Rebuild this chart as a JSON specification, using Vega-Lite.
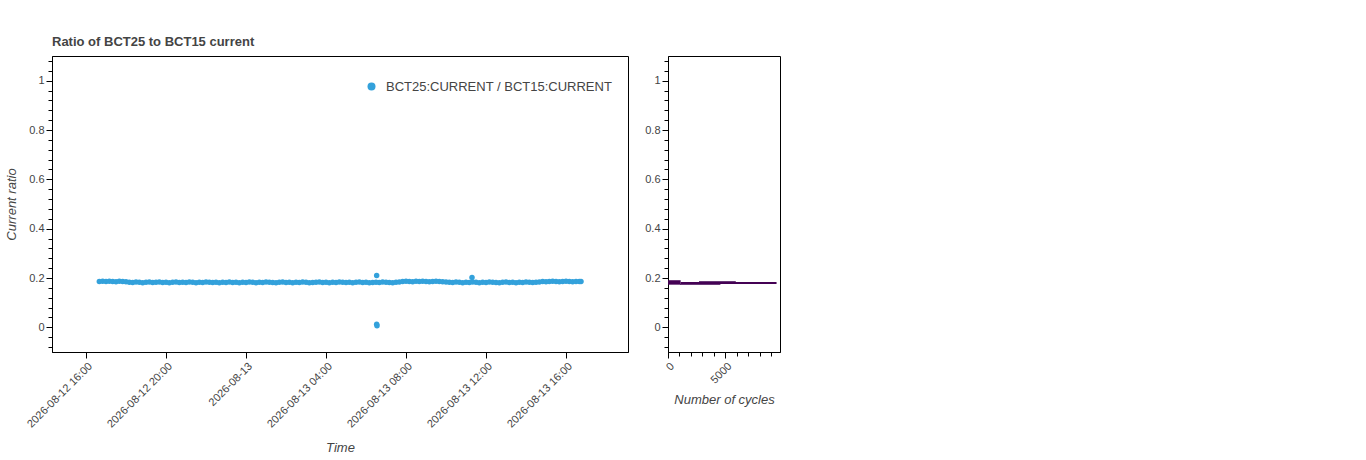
{
  "$schema": "https://vega.github.io/schema/vega-lite/v6.json",
  "background": "white",
  "padding": {"left": 5, "top": 35, "right": 5, "bottom": 5},
  "spacing": 15,
  "resolve": {"scale": {"color": "independent"}},
  "config": {
    "font": "Liberation Sans",
    "view": {"stroke": "#000", "strokeWidth": 1},
    "axis": {
      "grid": false,
      "domainColor": "#000",
      "tickColor": "#000",
      "labelColor": "#444",
      "labelFontSize": 11,
      "labelPadding": 2,
      "tickSize": 6,
      "titleColor": "#444",
      "titleFontSize": 13,
      "titleFontStyle": "italic",
      "titleFontWeight": "normal"
    }
  },
  "hconcat": [
    {
      "width": 576,
      "height": 296,
      "title": {"text": "Ratio of BCT25 to BCT15 current", "anchor": "start", "frame": "group", "fontSize": 13, "fontWeight": "bold", "color": "#444", "offset": 6},
      "data": {
        "values": [
          {"time": "2026-08-12T16:40", "ratio": 0.186}, {"time": "2026-08-12T16:50", "ratio": 0.187}, {"time": "2026-08-12T17:00", "ratio": 0.186}, {"time": "2026-08-12T17:10", "ratio": 0.187},
          {"time": "2026-08-12T17:20", "ratio": 0.186}, {"time": "2026-08-12T17:30", "ratio": 0.185}, {"time": "2026-08-12T17:40", "ratio": 0.187}, {"time": "2026-08-12T17:50", "ratio": 0.186},
          {"time": "2026-08-12T18:00", "ratio": 0.185}, {"time": "2026-08-12T18:10", "ratio": 0.183}, {"time": "2026-08-12T18:20", "ratio": 0.182}, {"time": "2026-08-12T18:30", "ratio": 0.184},
          {"time": "2026-08-12T18:40", "ratio": 0.183}, {"time": "2026-08-12T18:50", "ratio": 0.181}, {"time": "2026-08-12T19:00", "ratio": 0.183}, {"time": "2026-08-12T19:10", "ratio": 0.184},
          {"time": "2026-08-12T19:20", "ratio": 0.182}, {"time": "2026-08-12T19:30", "ratio": 0.183}, {"time": "2026-08-12T19:40", "ratio": 0.184}, {"time": "2026-08-12T19:50", "ratio": 0.182},
          {"time": "2026-08-12T20:00", "ratio": 0.183}, {"time": "2026-08-12T20:10", "ratio": 0.181}, {"time": "2026-08-12T20:20", "ratio": 0.183}, {"time": "2026-08-12T20:30", "ratio": 0.184},
          {"time": "2026-08-12T20:40", "ratio": 0.182}, {"time": "2026-08-12T20:50", "ratio": 0.183}, {"time": "2026-08-12T21:00", "ratio": 0.182}, {"time": "2026-08-12T21:10", "ratio": 0.184},
          {"time": "2026-08-12T21:20", "ratio": 0.183}, {"time": "2026-08-12T21:30", "ratio": 0.181}, {"time": "2026-08-12T21:40", "ratio": 0.183}, {"time": "2026-08-12T21:50", "ratio": 0.182},
          {"time": "2026-08-12T22:00", "ratio": 0.184}, {"time": "2026-08-12T22:10", "ratio": 0.183}, {"time": "2026-08-12T22:20", "ratio": 0.182}, {"time": "2026-08-12T22:30", "ratio": 0.183},
          {"time": "2026-08-12T22:40", "ratio": 0.181}, {"time": "2026-08-12T22:50", "ratio": 0.183}, {"time": "2026-08-12T23:00", "ratio": 0.182}, {"time": "2026-08-12T23:10", "ratio": 0.184},
          {"time": "2026-08-12T23:20", "ratio": 0.182}, {"time": "2026-08-12T23:30", "ratio": 0.183}, {"time": "2026-08-12T23:40", "ratio": 0.181}, {"time": "2026-08-12T23:50", "ratio": 0.183},
          {"time": "2026-08-13T00:00", "ratio": 0.182}, {"time": "2026-08-13T00:10", "ratio": 0.184}, {"time": "2026-08-13T00:20", "ratio": 0.183}, {"time": "2026-08-13T00:30", "ratio": 0.181},
          {"time": "2026-08-13T00:40", "ratio": 0.183}, {"time": "2026-08-13T00:50", "ratio": 0.182}, {"time": "2026-08-13T01:00", "ratio": 0.184}, {"time": "2026-08-13T01:10", "ratio": 0.183},
          {"time": "2026-08-13T01:20", "ratio": 0.182}, {"time": "2026-08-13T01:30", "ratio": 0.181}, {"time": "2026-08-13T01:40", "ratio": 0.183}, {"time": "2026-08-13T01:50", "ratio": 0.184},
          {"time": "2026-08-13T02:00", "ratio": 0.182}, {"time": "2026-08-13T02:10", "ratio": 0.183}, {"time": "2026-08-13T02:20", "ratio": 0.181}, {"time": "2026-08-13T02:30", "ratio": 0.183},
          {"time": "2026-08-13T02:40", "ratio": 0.182}, {"time": "2026-08-13T02:50", "ratio": 0.184}, {"time": "2026-08-13T03:00", "ratio": 0.183}, {"time": "2026-08-13T03:10", "ratio": 0.181},
          {"time": "2026-08-13T03:20", "ratio": 0.182}, {"time": "2026-08-13T03:30", "ratio": 0.183}, {"time": "2026-08-13T03:40", "ratio": 0.184}, {"time": "2026-08-13T03:50", "ratio": 0.182},
          {"time": "2026-08-13T04:00", "ratio": 0.183}, {"time": "2026-08-13T04:10", "ratio": 0.181}, {"time": "2026-08-13T04:20", "ratio": 0.183}, {"time": "2026-08-13T04:30", "ratio": 0.182},
          {"time": "2026-08-13T04:40", "ratio": 0.184}, {"time": "2026-08-13T04:50", "ratio": 0.183}, {"time": "2026-08-13T05:00", "ratio": 0.182}, {"time": "2026-08-13T05:10", "ratio": 0.183},
          {"time": "2026-08-13T05:20", "ratio": 0.181}, {"time": "2026-08-13T05:30", "ratio": 0.183}, {"time": "2026-08-13T05:40", "ratio": 0.184}, {"time": "2026-08-13T05:50", "ratio": 0.182},
          {"time": "2026-08-13T06:00", "ratio": 0.183}, {"time": "2026-08-13T06:10", "ratio": 0.181}, {"time": "2026-08-13T06:20", "ratio": 0.182}, {"time": "2026-08-13T06:30", "ratio": 0.183},
          {"time": "2026-08-13T06:32", "ratio": 0.21}, {"time": "2026-08-13T06:32", "ratio": 0.013}, {"time": "2026-08-13T06:33", "ratio": 0.006},
          {"time": "2026-08-13T06:40", "ratio": 0.182}, {"time": "2026-08-13T06:50", "ratio": 0.184}, {"time": "2026-08-13T07:00", "ratio": 0.183}, {"time": "2026-08-13T07:10", "ratio": 0.182},
          {"time": "2026-08-13T07:20", "ratio": 0.181}, {"time": "2026-08-13T07:30", "ratio": 0.183}, {"time": "2026-08-13T07:40", "ratio": 0.184}, {"time": "2026-08-13T07:50", "ratio": 0.186},
          {"time": "2026-08-13T08:00", "ratio": 0.187}, {"time": "2026-08-13T08:10", "ratio": 0.186}, {"time": "2026-08-13T08:20", "ratio": 0.185}, {"time": "2026-08-13T08:30", "ratio": 0.187},
          {"time": "2026-08-13T08:40", "ratio": 0.186}, {"time": "2026-08-13T08:50", "ratio": 0.187}, {"time": "2026-08-13T09:00", "ratio": 0.186}, {"time": "2026-08-13T09:10", "ratio": 0.185},
          {"time": "2026-08-13T09:20", "ratio": 0.186}, {"time": "2026-08-13T09:30", "ratio": 0.187}, {"time": "2026-08-13T09:40", "ratio": 0.186}, {"time": "2026-08-13T09:50", "ratio": 0.185},
          {"time": "2026-08-13T10:00", "ratio": 0.184}, {"time": "2026-08-13T10:10", "ratio": 0.183}, {"time": "2026-08-13T10:20", "ratio": 0.182}, {"time": "2026-08-13T10:30", "ratio": 0.184},
          {"time": "2026-08-13T10:40", "ratio": 0.183}, {"time": "2026-08-13T10:50", "ratio": 0.181}, {"time": "2026-08-13T11:00", "ratio": 0.183}, {"time": "2026-08-13T11:10", "ratio": 0.182},
          {"time": "2026-08-13T11:18", "ratio": 0.202},
          {"time": "2026-08-13T11:20", "ratio": 0.184}, {"time": "2026-08-13T11:30", "ratio": 0.183}, {"time": "2026-08-13T11:40", "ratio": 0.181}, {"time": "2026-08-13T11:50", "ratio": 0.183},
          {"time": "2026-08-13T12:00", "ratio": 0.182}, {"time": "2026-08-13T12:10", "ratio": 0.184}, {"time": "2026-08-13T12:20", "ratio": 0.183}, {"time": "2026-08-13T12:30", "ratio": 0.182},
          {"time": "2026-08-13T12:40", "ratio": 0.181}, {"time": "2026-08-13T12:50", "ratio": 0.183}, {"time": "2026-08-13T13:00", "ratio": 0.184}, {"time": "2026-08-13T13:10", "ratio": 0.182},
          {"time": "2026-08-13T13:20", "ratio": 0.183}, {"time": "2026-08-13T13:30", "ratio": 0.181}, {"time": "2026-08-13T13:40", "ratio": 0.183}, {"time": "2026-08-13T13:50", "ratio": 0.182},
          {"time": "2026-08-13T14:00", "ratio": 0.184}, {"time": "2026-08-13T14:10", "ratio": 0.183}, {"time": "2026-08-13T14:20", "ratio": 0.182}, {"time": "2026-08-13T14:30", "ratio": 0.183},
          {"time": "2026-08-13T14:40", "ratio": 0.184}, {"time": "2026-08-13T14:50", "ratio": 0.186}, {"time": "2026-08-13T15:00", "ratio": 0.185}, {"time": "2026-08-13T15:10", "ratio": 0.186},
          {"time": "2026-08-13T15:20", "ratio": 0.187}, {"time": "2026-08-13T15:30", "ratio": 0.186}, {"time": "2026-08-13T15:40", "ratio": 0.185}, {"time": "2026-08-13T15:50", "ratio": 0.186},
          {"time": "2026-08-13T16:00", "ratio": 0.187}, {"time": "2026-08-13T16:10", "ratio": 0.186}, {"time": "2026-08-13T16:20", "ratio": 0.185}, {"time": "2026-08-13T16:30", "ratio": 0.186},
          {"time": "2026-08-13T16:40", "ratio": 0.186}, {"time": "2026-08-13T16:45", "ratio": 0.186}
        ]
      },
      "mark": {"type": "circle", "size": 30, "opacity": 1},
      "encoding": {
        "x": {
          "field": "time",
          "type": "temporal",
          "scale": {"domain": [{"year": 2026, "month": 8, "date": 12, "hours": 14, "minutes": 18}, {"year": 2026, "month": 8, "date": 13, "hours": 19, "minutes": 6}]},
          "axis": {
            "title": "Time",
            "values": [
              {"year": 2026, "month": 8, "date": 12, "hours": 16}, {"year": 2026, "month": 8, "date": 12, "hours": 20},
              {"year": 2026, "month": 8, "date": 13, "hours": 0}, {"year": 2026, "month": 8, "date": 13, "hours": 4},
              {"year": 2026, "month": 8, "date": 13, "hours": 8}, {"year": 2026, "month": 8, "date": 13, "hours": 12},
              {"year": 2026, "month": 8, "date": 13, "hours": 16}
            ],
            "labelExpr": "hours(datum.value) == 0 ? timeFormat(datum.value, '%Y-%m-%d') : timeFormat(datum.value, '%Y-%m-%d %H:%M')",
            "labelAngle": -45,
            "labelOverlap": false,
            "titlePadding": 12
          }
        },
        "y": {
          "field": "ratio",
          "type": "quantitative",
          "scale": {"domain": [-0.1, 1.1], "nice": false, "zero": false},
          "axis": {
            "title": "Current ratio",
            "values": [-0.08, -0.04, 0, 0.04, 0.08, 0.12, 0.16, 0.2, 0.24, 0.28, 0.32, 0.36, 0.4, 0.44, 0.48, 0.52, 0.56, 0.6, 0.64, 0.68, 0.72, 0.76, 0.8, 0.84, 0.88, 0.92, 0.96, 1, 1.04, 1.08],
            "labelExpr": "indexof([0, 0.2, 0.4, 0.6, 0.8, 1], datum.value) >= 0 ? format(datum.value, '~g') : ''",
            "tickSize": {"condition": {"test": "indexof([0, 0.2, 0.4, 0.6, 0.8, 1], datum.value) >= 0", "value": 6}, "value": 4},
            "labelOverlap": false,
            "titlePadding": 10
          }
        },
        "color": {
          "datum": "BCT25:CURRENT / BCT15:CURRENT",
          "scale": {"range": ["#33a1db"]},
          "legend": {
            "title": null,
            "orient": "none",
            "legendX": 313,
            "legendY": 24,
            "symbolType": "circle",
            "symbolSize": 64,
            "labelFontSize": 13,
            "labelColor": "#444",
            "labelLimit": 0,
            "labelOffset": 8
          }
        }
      }
    },
    {
      "width": 112,
      "height": 296,
      "data": {
        "values": [
          {"c0": 1050, "c1": 4560, "lo": 0.172, "hi": 0.177, "density": "low"},
          {"c0": 2700, "c1": 5900, "lo": 0.183, "hi": 0.188, "density": "low"},
          {"c0": 0, "c1": 1100, "lo": 0.173, "hi": 0.191, "density": "high"},
          {"c0": 1100, "c1": 9450, "lo": 0.176, "hi": 0.184, "density": "high"}
        ]
      },
      "mark": {"type": "rect"},
      "encoding": {
        "x": {
          "field": "c0",
          "type": "quantitative",
          "scale": {"domain": [0, 9750], "nice": false, "zero": false},
          "axis": {
            "title": "Number of cycles",
            "values": [0, 1000, 2000, 3000, 4000, 5000, 6000, 7000, 8000, 9000],
            "labelExpr": "datum.value == 0 || datum.value == 5000 ? format(datum.value, 'd') : ''",
            "tickSize": {"condition": {"test": "datum.value == 0 || datum.value == 5000", "value": 6}, "value": 4},
            "labelAngle": -45,
            "labelOverlap": false,
            "titlePadding": 8
          }
        },
        "x2": {"field": "c1"},
        "y": {
          "field": "lo",
          "type": "quantitative",
          "scale": {"domain": [-0.1, 1.1], "nice": false, "zero": false},
          "axis": {
            "title": null,
            "values": [-0.08, -0.04, 0, 0.04, 0.08, 0.12, 0.16, 0.2, 0.24, 0.28, 0.32, 0.36, 0.4, 0.44, 0.48, 0.52, 0.56, 0.6, 0.64, 0.68, 0.72, 0.76, 0.8, 0.84, 0.88, 0.92, 0.96, 1, 1.04, 1.08],
            "labelExpr": "indexof([0, 0.2, 0.4, 0.6, 0.8, 1], datum.value) >= 0 ? format(datum.value, '~g') : ''",
            "tickSize": {"condition": {"test": "indexof([0, 0.2, 0.4, 0.6, 0.8, 1], datum.value) >= 0", "value": 6}, "value": 4},
            "labelOverlap": false
          }
        },
        "y2": {"field": "hi"},
        "color": {
          "field": "density",
          "type": "nominal",
          "scale": {"domain": ["high", "low"], "range": ["#440154", "#6a3a78"]},
          "legend": null
        }
      }
    }
  ]
}
